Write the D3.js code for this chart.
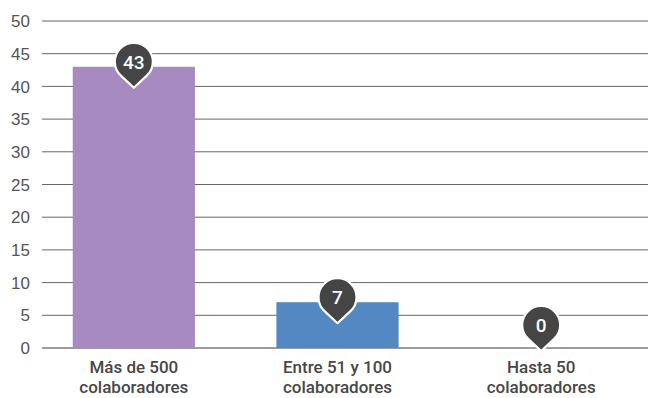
<!DOCTYPE html>
<html>
<head>
<meta charset="utf-8">
<script src="https://cdn.jsdelivr.net/npm/d3@7"></script>
<style>
  html, body { margin: 0; padding: 0; background: #fff; }
  svg { display: block; }
</style>
</head>
<body>
<svg id="chart" width="648" height="398"></svg>
<script>
// Respondents by company size
const categories = ["Más de 500 colaboradores", "Entre 51 y 100 colaboradores", "Hasta 50 colaboradores"];
const categoryLines = [["Más de 500", "colaboradores"], ["Entre 51 y 100", "colaboradores"], ["Hasta 50", "colaboradores"]];
const values = [43, 7, 0];
const barColors = ["#a78bc0", "#5388c3", "#5388c3"];
const yTicks = [0, 5, 10, 15, 20, 25, 30, 35, 40, 45, 50];

const svg = d3.select("#chart");
const W = 648;

const y = d3.scaleLinear().domain([0, 50]).range([348, 21]);
const x = d3.scaleBand()
  .domain(categories)
  .range([32, 643])
  .paddingInner(0.4)
  .paddingOuter(0.2);

// Horizontal grid
svg.append("g")
  .selectAll("line")
  .data(yTicks)
  .join("line")
  .attr("x1", 42)
  .attr("x2", W)
  .attr("y1", d => y(d))
  .attr("y2", d => y(d))
  .attr("stroke", d => d === 0 ? "#3a3a3a" : "#666")
  .attr("stroke-width", 1);

// Y-axis labels
svg.append("g")
  .selectAll("text")
  .data(yTicks)
  .join("text")
  .attr("x", 30)
  .attr("y", d => y(d))
  .attr("dy", "0.36em")
  .attr("text-anchor", "end")
  .attr("font-family", "'Liberation Sans', Arial, sans-serif")
  .attr("font-size", 17)
  .attr("fill", "#555")
  .text(d => d);

// Bars
svg.append("g")
  .selectAll("rect")
  .data(values)
  .join("rect")
  .attr("x", (d, i) => x(categories[i]))
  .attr("width", x.bandwidth())
  .attr("y", d => y(d))
  .attr("height", d => y(0) - y(d))
  .attr("fill", (d, i) => barColors[i]);

// Pin-shaped value markers
const r = 19, h = 26;
const th = Math.acos(r / h);
const sx = r * Math.sin(th), sy = r * Math.cos(th);
const pinPath = `M0,${h} L${sx},${sy} A${r},${r} 0 1 0 ${-sx},${sy} Z`;

const pins = svg.append("g")
  .selectAll("g")
  .data(values)
  .join("g")
  .attr("transform", (d, i) => {
    const cx = x(categories[i]) + x.bandwidth() / 2;
    const cy = Math.min(y(d) - 5, y(0) - 23);
    return `translate(${cx},${cy})`;
  });

pins.append("path")
  .attr("d", pinPath)
  .attr("fill", "#454545")
  .attr("stroke", "#fff")
  .attr("stroke-width", 2.2)
  .attr("stroke-linejoin", "round");

pins.append("text")
  .attr("text-anchor", "middle")
  .attr("dy", "0.36em")
  .attr("font-family", "Roboto, 'Liberation Sans', Arial, sans-serif")
  .attr("font-weight", 500)
  .attr("font-size", 19)
  .attr("fill", "#fff")
  .text(d => d);

// Category labels
const labels = svg.append("g")
  .selectAll("text")
  .data(categoryLines)
  .join("text")
  .attr("x", (d, i) => x(categories[i]) + x.bandwidth() / 2)
  .attr("y", 373)
  .attr("text-anchor", "middle")
  .attr("font-family", "Roboto, 'Liberation Sans', Arial, sans-serif")
  .attr("font-weight", 500)
  .attr("font-size", 17)
  .attr("fill", "#474747");

labels.selectAll("tspan")
  .data(d => d)
  .join("tspan")
  .attr("x", function () { return d3.select(this.parentNode).attr("x"); })
  .attr("dy", (d, i) => i === 0 ? 0 : 20)
  .text(d => d);
</script>
</body>
</html>
